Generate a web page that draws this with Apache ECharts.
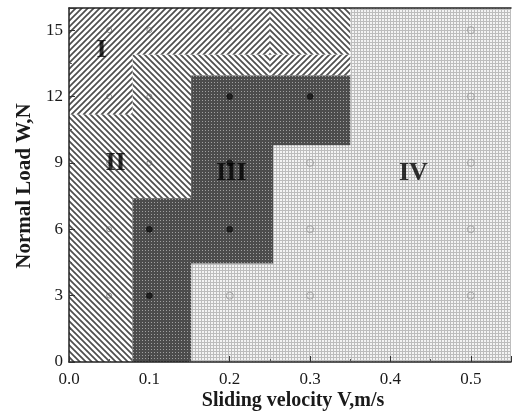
<!DOCTYPE html>
<html>
<head>
<meta charset="utf-8">
<script src="https://cdn.jsdelivr.net/npm/echarts@6/dist/echarts.min.js"></script>
<style>
  html, body { margin: 0; padding: 0; background: #fff; }
  #chart { width: 514px; height: 413px; }
</style>
</head>
<body>
<div id="chart"></div>
<script>
// Wear-mechanism map: normal load vs sliding velocity
const xTicks = [0, 0.1, 0.2, 0.3, 0.4, 0.5];
const yTicks = [0, 3, 6, 9, 12, 15];

// Region boundaries, [velocity m/s, load N]
const regionI      = [[0, 11.2], [0, 16], [0.25, 16], [0.25, 13.9], [0.079, 13.9], [0.079, 11.2]];
const regionIStep  = [[0.25, 12.95], [0.25, 13.9], [0.35, 13.9], [0.35, 12.95]];
const regionIICap  = [[0.25, 13.9], [0.25, 16], [0.35, 16], [0.35, 13.9]];
const regionII     = [[0, 0], [0, 11.2], [0.079, 11.2], [0.079, 13.9], [0.25, 13.9], [0.25, 12.95],
                      [0.152, 12.95], [0.152, 7.4], [0.079, 7.4], [0.079, 0]];
const regionIII    = [[0.079, 0], [0.079, 7.4], [0.152, 7.4], [0.152, 12.95], [0.35, 12.95], [0.35, 9.8],
                      [0.254, 9.8], [0.254, 4.45], [0.152, 4.45], [0.152, 0]];
const regionIV     = [[0.152, 0], [0.152, 4.45], [0.254, 4.45], [0.254, 9.8], [0.35, 9.8], [0.35, 16],
                      [0.55, 16], [0.55, 0]];

// Test points grouped by the regime they fall in
const pointsHatched = [[0.05, 3], [0.05, 6], [0.05, 9], [0.05, 12], [0.05, 15],
                       [0.1, 9], [0.1, 12], [0.1, 15], [0.2, 15], [0.3, 15]];
const pointsIII     = [[0.1, 3], [0.1, 6], [0.2, 6], [0.2, 9], [0.2, 12], [0.3, 12]];
const pointsIV      = [[0.2, 3], [0.3, 3], [0.3, 6], [0.3, 9],
                       [0.5, 3], [0.5, 6], [0.5, 9], [0.5, 12], [0.5, 15]];

// Region names and where they are written
const regionNames  = ['I', 'II', 'III', 'IV'];
const regionLabelAt = [[0.0406, 14.1], [0.058, 9.0], [0.202, 8.55], [0.4286, 8.55]];

// ---- fill patterns ----
function makeTile(size, draw) {
  const c = document.createElement('canvas');
  c.width = size; c.height = size;
  draw(c.getContext('2d'), size);
  return { image: c, repeat: 'repeat' };
}
function hatch(dir) {
  return makeTile(6, (ctx, s) => {
    ctx.fillStyle = '#ffffff';
    ctx.fillRect(0, 0, s, s);
    ctx.strokeStyle = '#4e4e4e';
    ctx.lineWidth = 1.7;
    ctx.beginPath();
    if (dir === '/') {
      ctx.moveTo(-1, s + 1); ctx.lineTo(s + 1, -1);
      ctx.moveTo(-1, 1); ctx.lineTo(1, -1);
      ctx.moveTo(s - 1, s + 1); ctx.lineTo(s + 1, s - 1);
    } else {
      ctx.moveTo(-1, -1); ctx.lineTo(s + 1, s + 1);
      ctx.moveTo(s - 1, -1); ctx.lineTo(s + 1, 1);
      ctx.moveTo(-1, s - 1); ctx.lineTo(1, s + 1);
    }
    ctx.stroke();
  });
}
const fillSlash = hatch('/');
const fillBack = hatch('\\');
const fillDots = makeTile(3, (ctx, s) => {
  ctx.fillStyle = '#4c4c4c';
  ctx.fillRect(0, 0, s, s);
  ctx.fillStyle = '#a0a0a0';
  ctx.fillRect(1, 1, 1, 1);
});
const fillGrid = makeTile(3, (ctx, s) => {
  ctx.fillStyle = '#f4f4f4';
  ctx.fillRect(0, 0, s, s);
  ctx.fillStyle = '#bdbdbd';
  ctx.fillRect(0, 0, s, 1);
  ctx.fillRect(0, 0, 1, s);
});

const regions = [
  { pts: regionIV, fill: fillGrid },
  { pts: regionII, fill: fillBack },
  { pts: regionI, fill: fillSlash },
  { pts: regionIStep, fill: fillSlash },
  { pts: regionIICap, fill: fillBack },
  { pts: regionIII, fill: fillDots }
];

const serif = '"Liberation Serif", "DejaVu Serif", serif';
const chart = echarts.init(document.getElementById('chart'), null, { renderer: 'canvas' });

const axisCommon = {
  z: 5,
  axisLine: { show: true, lineStyle: { color: '#222', width: 1.5 } },
  splitLine: { show: false },
  axisTick: { show: true, inside: true, length: 6, lineStyle: { color: '#333', width: 1 } },
  minorTick: { show: true, splitNumber: 2, length: 3, lineStyle: { color: '#555', width: 1 } }
};

chart.setOption({
  animation: false,
  backgroundColor: '#ffffff',
  grid: { left: 69, top: 8, width: 447, height: 354 },
  xAxis: [
    Object.assign({}, axisCommon, {
      type: 'value', min: 0, max: 0.55, interval: 0.1,
      axisLabel: {
        fontFamily: serif, fontSize: 17, color: '#1a1a1a', margin: 9,
        formatter: v => xTicks.some(t => Math.abs(t - v) < 1e-6) ? v.toFixed(1) : ''
      }
    }),
    {
      type: 'value', position: 'top', min: 0, max: 0.55, z: 5,
      axisLine: { show: true, lineStyle: { color: '#222', width: 1.5 } },
      axisTick: { show: false }, axisLabel: { show: false }, splitLine: { show: false }
    }
  ],
  yAxis: Object.assign({}, axisCommon, {
    type: 'value', min: 0, max: 16, interval: 3,
    axisLabel: {
      fontFamily: serif, fontSize: 17, color: '#1a1a1a', margin: 6,
      formatter: v => yTicks.indexOf(v) >= 0 ? String(v) : ''
    }
  }),
  graphic: [
    {
      type: 'text', x: 293, y: 401, z: 10,
      style: { text: 'Sliding velocity V,m/s', font: 'bold 20px ' + serif, fill: '#1a1a1a',
               align: 'center', verticalAlign: 'middle' }
    },
    {
      type: 'text', x: 25, y: 186, rotation: Math.PI / 2, z: 10,
      style: { text: 'Normal Load W,N', font: 'bold 21px ' + serif, fill: '#1a1a1a',
               align: 'center', verticalAlign: 'middle' }
    }
  ],
  series: [
    {
      type: 'custom',
      clip: true,
      z: 1,
      data: regions.map((r, i) => i),
      renderItem: (params, api) => {
        const r = regions[params.dataIndex];
        const points = r.pts.map(p => api.coord(p));
        return { type: 'polygon', shape: { points }, style: { fill: r.fill, stroke: null } };
      }
    },
    {
      type: 'scatter', z: 3, data: pointsHatched, symbol: 'circle', symbolSize: 5,
      itemStyle: { color: 'rgba(0,0,0,0)', borderColor: '#555', borderWidth: 1, opacity: 0.7 }
    },
    {
      type: 'scatter', z: 3, data: pointsIII, symbol: 'circle', symbolSize: 6,
      itemStyle: { color: '#111', borderColor: '#000', borderWidth: 0.5 }
    },
    {
      type: 'scatter', z: 3, data: pointsIV, symbol: 'circle', symbolSize: 7,
      itemStyle: { color: 'rgba(0,0,0,0)', borderColor: '#999', borderWidth: 1 }
    },
    {
      type: 'scatter', z: 4, symbolSize: 0,
      data: regionLabelAt.map((p, i) => ({ value: p, name: regionNames[i] })),
      label: {
        show: true, position: 'inside', formatter: p => p.name,
        fontFamily: serif, fontWeight: 'bold', fontSize: 26, color: '#000'
      }
    }
  ]
});
</script>
</body>
</html>
